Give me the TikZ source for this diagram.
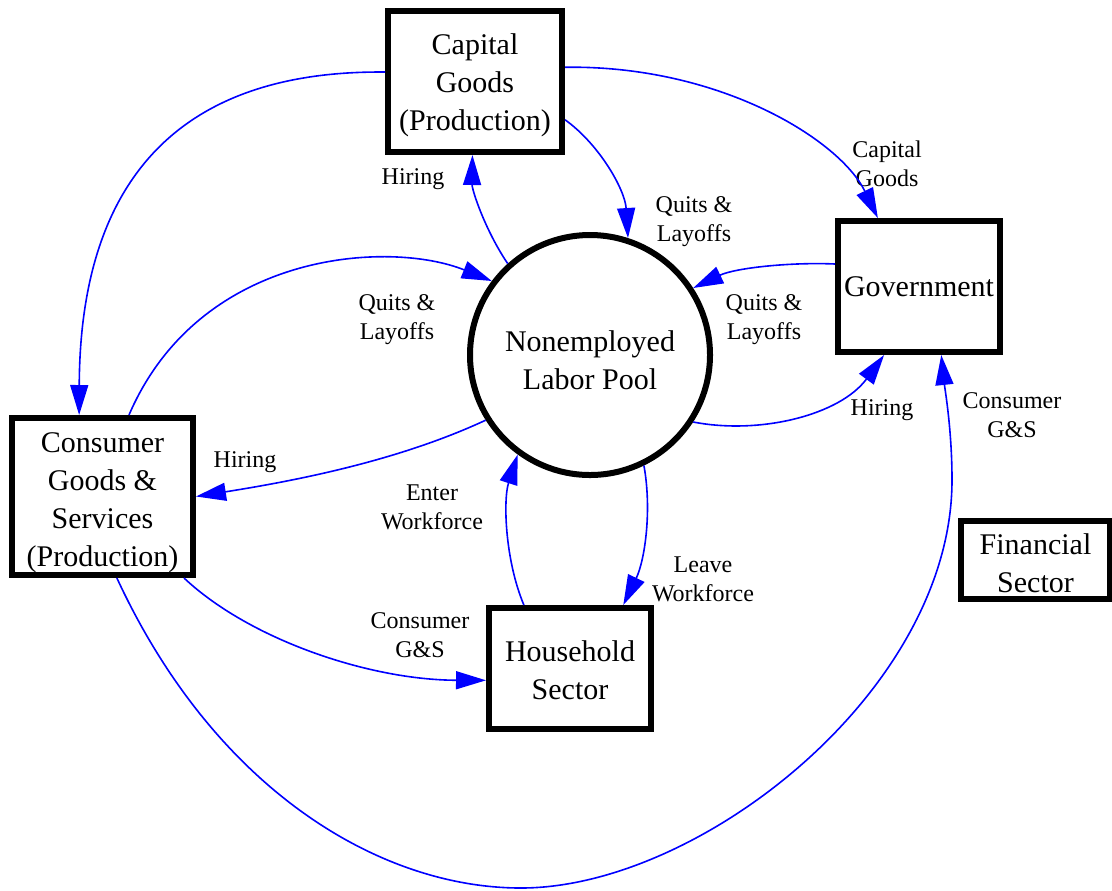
\documentclass[tikz,border=0pt]{standalone}
\usepackage{fontspec}
\setmainfont{Liberation Serif}
\usetikzlibrary{arrows.meta}
% invisible rule that sets the height of a node's first line
\newcommand\firstline[1]{\rule{0pt}{#1}}
\begin{document}
\begin{tikzpicture}[x=0.5pt,y=-0.5pt,
  sector/.style={draw, line width=3pt, align=center, inner sep=0pt,
    font=\fontsize{15}{19}\selectfont},
  box/.style={sector, rectangle},
  poolnode/.style={sector, circle},
  flow/.style={draw=blue, line width=0.8pt, -{Triangle[length=15pt,width=9pt]}},
  lbl/.style={align=center, inner sep=0pt, yshift=-1.2pt,
    font=\fontsize{12}{14.5}\selectfont}]
\useasboundingbox (0,0) rectangle (1112,890);

% sectors
\node[box, minimum width=87pt, minimum height=70.5pt] (cap) at (475,81.5)
  {\firstline{14.3pt}Capital\\Goods\\(Production)};
\node[box, minimum width=90.5pt, minimum height=78.5pt] (con) at (102.5,496.5)
  {\firstline{15.9pt}Consumer\\Goods \&\\Services\\(Production)};
\node[poolnode, minimum size=120pt] (pool) at (590,355)
  {\firstline{15.2pt}Nonemployed\\Labor Pool};
\node[box, minimum width=81pt, minimum height=65.5pt] (gov) at (919,286.5) {Government};
\node[box, minimum width=81pt, minimum height=60.5pt] (hh) at (570,668.5)
  {\firstline{12.3pt}Household\\Sector};
\node[box, minimum width=74.5pt, minimum height=39pt] (fin) at (1035.5,560)
  {\firstline{13.3pt}Financial\\Sector};

% flow labels
\node[lbl] (lcg) at (887,161) {Capital\\Goods};
\node[lbl] (lql1) at (694,219) {Quits \&\\Layoffs};
\node[lbl] (lh1) at (413,177) {Hiring};
\node[lbl] (lql2) at (397,317) {Quits \&\\Layoffs};
\node[lbl] (lh2) at (245,460) {Hiring};
\node[lbl] (lql3) at (764,317) {Quits \&\\Layoffs};
\node[lbl] (lh3) at (882,408) {Hiring};
\node[lbl] (lew) at (432,505) {Enter\\Workforce};
\node[lbl] (llw) at (703,577) {Leave\\Workforce};
\node[lbl] (lgs1) at (420,633) {Consumer\\G\&S};
\node[lbl] (lgs2) at (1012,413) {Consumer\\G\&S};

% flows
\draw[flow] (cap.174) .. controls (170,70) and (80,190) .. (con.106);
\draw[flow] (cap.9.5) .. controls (720,65) and (840,140) .. (gov.121);
\draw[flow] (cap.-23) .. controls (600,145) and (625,190) .. (pool.72.5);
\draw[flow] (pool.132) .. controls (485,230) and (472,190) .. (cap.-92.5);
\draw[flow] (con.72) .. controls (200,250) and (390,240) .. (pool.143);
\draw[flow] (pool.212) .. controls (400,460) and (300,480) .. (con.0);
\draw[flow] (gov.165) .. controls (790,262) and (735,268) .. (pool.33);
\draw[flow] (pool.-33) .. controls (760,435) and (840,415) .. (gov.-117);
\draw[flow] (hh.126) .. controls (505,560) and (503,500) .. (pool.-126);
\draw[flow] (pool.-64) .. controls (652,510) and (645,560) .. (hh.50.5);
\draw[flow] (con.-45.5) .. controls (250,640) and (370,680) .. (hh.188);
\coordinate (low) at (521,888);
\coordinate (rise) at (952,480);
\draw[flow] (con.-80.6) .. controls (215,790) and (380,888) .. (low)
  .. controls (700,888) and (952,690) .. (rise)
  .. controls (952,430) and (945,390) .. (gov.-72);
\end{tikzpicture}
\end{document}
